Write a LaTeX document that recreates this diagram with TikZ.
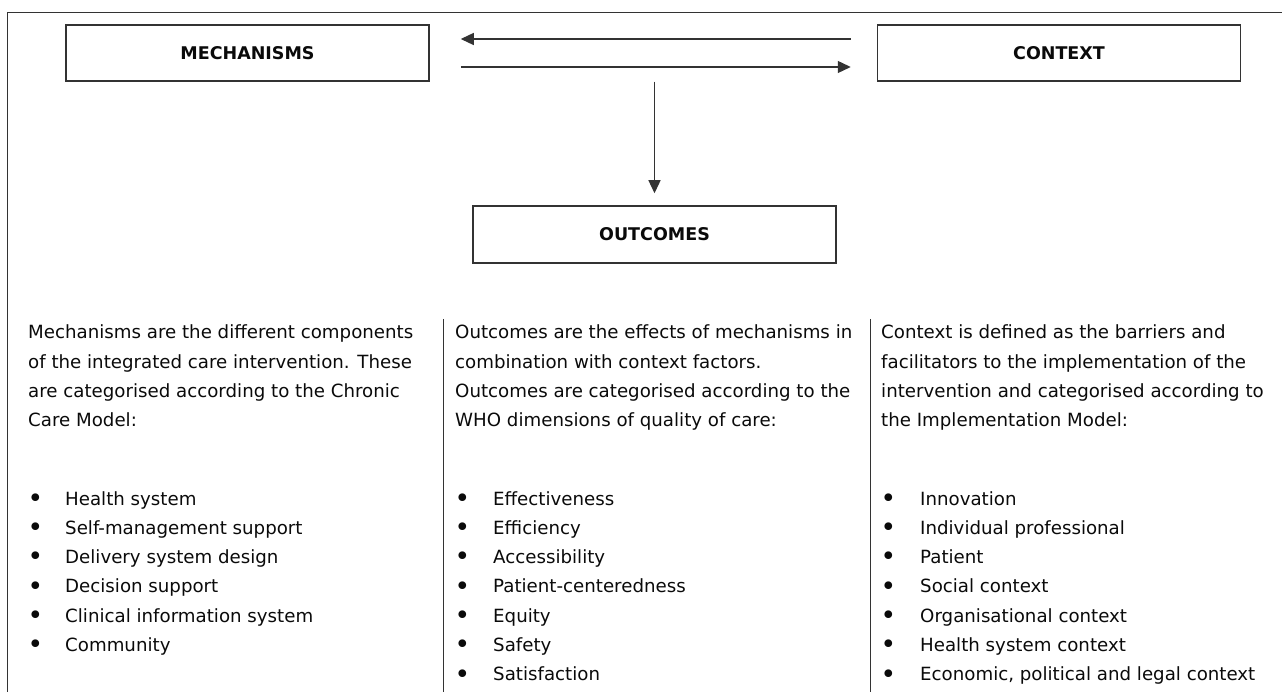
\documentclass[tikz,border=0pt]{standalone}
\usepackage{fontspec}
\setmainfont{DejaVu Sans}
\usetikzlibrary{arrows.meta}
\definecolor{lc}{HTML}{333333}
\definecolor{tc}{HTML}{0A0A0A}
\tikzset{
  box/.style={draw=lc, line width=1.5pt, minimum width=363pt, minimum height=56pt, inner sep=0pt, text=tc, font=\fontsize{17.5}{20}\selectfont\bfseries},
  txt/.style={anchor=base west, inner sep=0pt, text=tc, font=\fontsize{18.2}{22}\selectfont},
  arr/.style={draw=lc, line width=1.3pt, -{Triangle[length=13pt,width=12pt]}},
  rulel/.style={draw=lc, line width=1.3pt}
}
\newcommand{\bul}[2]{\makebox[#1][l]{\hspace*{-0.5pt}\raisebox{-2.2pt}{\scalebox{1.45}{\textbullet}}}#2}
\begin{document}
\begin{tikzpicture}[x=1pt,y=-1pt]
\useasboundingbox (0,0) rectangle (1282,692);
% frame and column rules
\draw[rulel] (7.5,692) -- (7.5,12.5) -- (1282,12.5);
\draw[rulel] (443.5,319) -- (443.5,692);
\draw[rulel] (870.5,319) -- (870.5,692);
% boxes
\node[box] (mech) at (247.5,53) {MECHANISMS};
\node[box] (ctx) at (1059,53) {CONTEXT};
\node[box, minimum height=57pt] (outc) at (654.5,234.5) {OUTCOMES};
% connectors
\draw[arr] ([xshift=-26pt,yshift=14pt]ctx.west) -- ([xshift=31pt,yshift=14pt]mech.east);
\draw[arr] ([xshift=31pt,yshift=-14pt]mech.east) -- ([xshift=-26pt,yshift=-14pt]ctx.west);
\draw[arr, shorten >=12pt] (outc.north |- mech.south) -- (outc.north);
% left column
\foreach \t [count=\i from 0] in {Mechanisms are the different components, of the integrated care intervention. These, are categorised according to the Chronic, Care Model:}
  \node[txt] (ml\i) at (28,339+29.3*\i) {\t};
\foreach \t [count=\i from 0] in {Health system, Self-management support, Delivery system design, Decision support, Clinical information system, Community}
  \node[txt] (mb\i) at (28,505+29.3*\i) {\bul{37pt}{\t}};
% middle column
\foreach \t [count=\i from 0] in {Outcomes are the effects of mechanisms in, combination with context factors., Outcomes are categorised according to the, WHO dimensions of quality of care:}
  \node[txt] (ol\i) at (455,339+29.3*\i) {\t};
\foreach \t [count=\i from 0] in {Effectiveness, Efficiency, Accessibility, Patient-centeredness, Equity, Safety, Satisfaction}
  \node[txt] (ob\i) at (455,505+29.3*\i) {\bul{38pt}{\t}};
% right column
\foreach \t [count=\i from 0] in {Context is defined as the barriers and, facilitators to the implementation of the, intervention and categorised according to, the Implementation Model:}
  \node[txt] (cl\i) at (881,339+29.3*\i) {\t};
\foreach \t [count=\i from 0] in {Innovation, Individual professional, Patient, Social context, Organisational context, Health system context, {Economic, political and legal context}}
  \node[txt] (cb\i) at (881,505+29.3*\i) {\bul{39pt}{\t}};
\end{tikzpicture}
\end{document}
